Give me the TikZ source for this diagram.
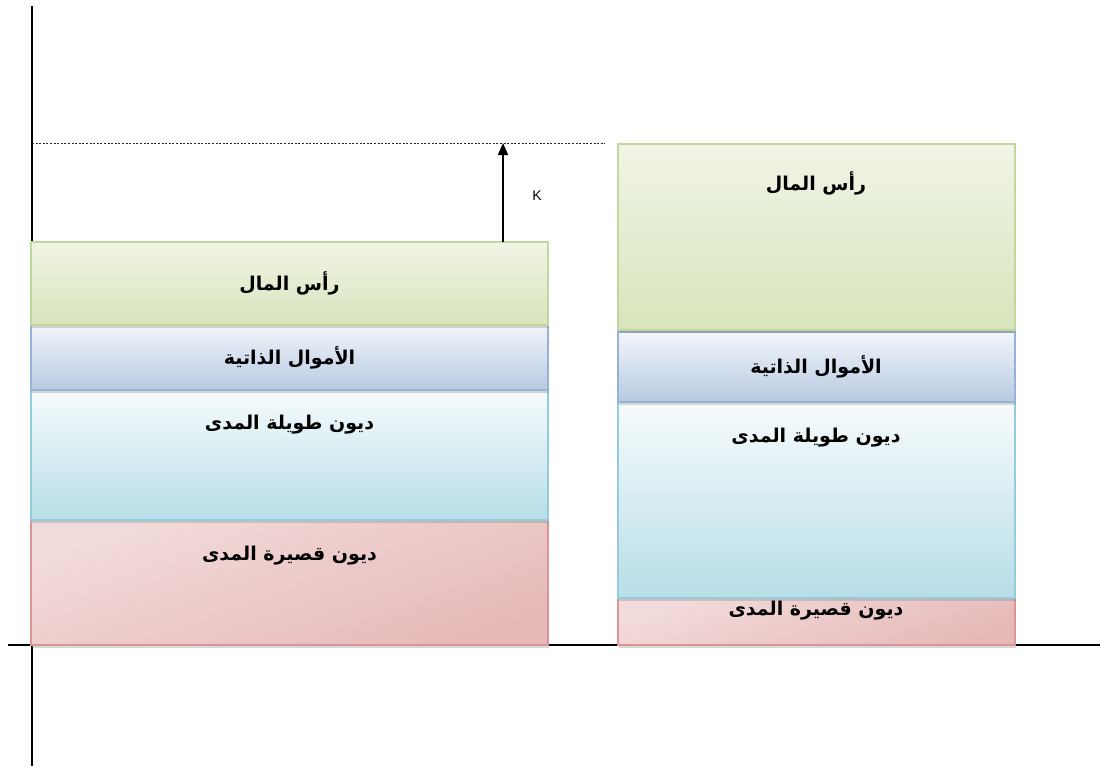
\documentclass[tikz,border=0pt]{standalone}
\usepackage{fontspec}
\usetikzlibrary{arrows.meta,shadows}
\TeXXeTstate=1
\newfontfamily\arabicfont[Script=Arabic]{DejaVu Sans}
\newfontfamily\latinsans{Liberation Sans}
\newcommand\artxt[1]{{\arabicfont\bfseries\beginR #1\endR}}
\definecolor{gbord}{HTML}{C3D69B}
\definecolor{gtop}{HTML}{F1F5E6}
\definecolor{gbot}{HTML}{D7E4BC}
\definecolor{bbord}{HTML}{95B3D7}
\definecolor{btop}{HTML}{F2F5FA}
\definecolor{bbot}{HTML}{B8CAE2}
\definecolor{cbord}{HTML}{93CDDD}
\definecolor{ctop}{HTML}{F7FBFC}
\definecolor{cbot}{HTML}{B7DEE8}
\definecolor{pbord}{HTML}{D99694}
\definecolor{ptop}{HTML}{F2DCDB}
\definecolor{pbot}{HTML}{E6B9B8}
\tikzset{
  box/.style={draw, line width=1.5pt, inner sep=0pt, outer sep=0pt, anchor=north west,
    drop shadow={opacity=0.3, shadow xshift=0.5pt, shadow yshift=-2.5pt}},
  greenbox/.style={box, draw=gbord, top color=gtop, bottom color=gbot},
  bluebox/.style={box, draw=bbord, top color=btop, bottom color=bbot},
  cyanbox/.style={box, draw=cbord, top color=ctop, bottom color=cbot},
  pinkbox/.style={box, draw=pbord, top color=ptop, bottom color=pbot, shading angle=20},
  lbl/.style={inner sep=0pt, font=\fontsize{19}{22}\selectfont, text=black},
  axis/.style={line width=1.4pt, black},
}
\begin{document}
\begin{tikzpicture}[x=1pt,y=-1pt]
\useasboundingbox[fill=white] (0,0) rectangle (1110,769);
% axes (under the boxes)
\coordinate (vtop) at (32,6);
\coordinate (vbot) at (32,766);
\coordinate (hl) at (8,645);
\coordinate (hr) at (1100,645);
\draw[axis] (vtop) -- (vbot);
\draw[axis] (hl) -- (hr);
% left stack
\node[pinkbox, minimum width=517pt, minimum height=125pt] (lp) at (31,520) {};
\node[cyanbox, minimum width=517pt, minimum height=130pt] (lc) at (31,390) {};
\node[bluebox, minimum width=517pt, minimum height=65pt] (lb) at (31,325) {};
\node[greenbox, minimum width=517pt, minimum height=83pt] (lg) at (31,242) {};
% right stack
\node[pinkbox, minimum width=397pt, minimum height=47pt] (rp) at (618,598) {};
\node[cyanbox, minimum width=397pt, minimum height=196pt] (rc) at (618,402) {};
\node[bluebox, minimum width=397pt, minimum height=70pt] (rb) at (618,332) {};
\node[greenbox, minimum width=397pt, minimum height=186pt] (rg) at (618,144) {};
% dotted level line and arrow
\coordinate (dl) at (32,143);
\coordinate (dr) at (605,143);
\draw[dash pattern=on 2pt off 1.6pt, line width=1pt, black!85] (dl) -- (dr);
\coordinate (atop) at (503,143);
\draw[line width=1.6pt, -{Triangle[width=10pt,length=12pt]}] (lg.north -| atop) -- (atop);
\node[inner sep=0pt, font=\latinsans\fontsize{14}{16}\selectfont] (K) at (537,196) {K};
% labels
\node[lbl] (tlg) at (289.5,283) {\artxt{رأس المال}};
\node[lbl] (tlb) at (289.5,358) {\artxt{الأموال الذاتية}};
\node[lbl] (tlc) at (289.5,425) {\artxt{ديون طويلة المدى}};
\node[lbl] (tlp) at (289.5,556) {\artxt{ديون قصيرة المدى}};
\node[lbl] (trg) at (816,183) {\artxt{رأس المال}};
\node[lbl] (trb) at (816,367) {\artxt{الأموال الذاتية}};
\node[lbl] (trc) at (816,438) {\artxt{ديون طويلة المدى}};
\node[lbl] (trp) at (816,611) {\artxt{ديون قصيرة المدى}};
\end{tikzpicture}
\end{document}
